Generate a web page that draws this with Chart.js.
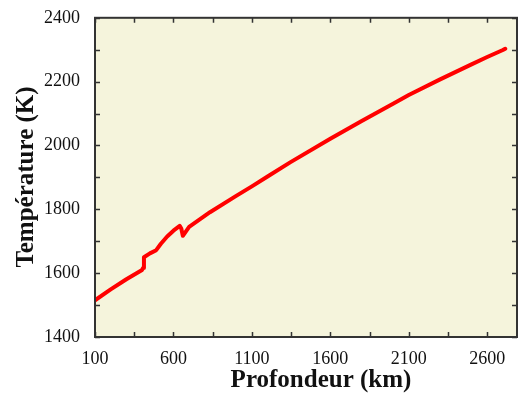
<!DOCTYPE html>
<html>
<head>
<meta charset="utf-8">
<script src="https://cdn.jsdelivr.net/npm/chart.js@4"></script>
<style>
  body { margin: 0; background: #fff; }
  canvas { display: block; }
</style>
</head>
<body>
<canvas id="chart" width="519" height="397"></canvas>
<script>
// depth (km) and temperature (K)
const depth = [100, 200, 300, 400, 406, 412, 450, 490, 520, 560, 600, 640, 650, 660, 700, 833, 1000, 1100, 1200, 1344, 1600, 1800, 2000, 2100, 2300, 2500, 2600, 2700, 2715];
const temperature = [1515, 1549, 1581, 1610, 1616, 1650, 1662, 1672, 1692, 1715, 1733, 1748, 1740, 1717, 1745, 1791, 1842, 1872, 1903, 1947, 2021, 2077, 2131, 2158, 2207, 2254, 2277, 2299, 2303];

const xTicks = [100, 350, 600, 850, 1100, 1350, 1600, 1850, 2100, 2350, 2600];
const xLabels = [100, 600, 1100, 1600, 2100, 2600];
const yTicks = [1400, 1500, 1600, 1700, 1800, 1900, 2000, 2100, 2200, 2300, 2400];
const yLabels = [1400, 1600, 1800, 2000, 2200, 2400];

const points = depth.map((d, i) => ({ x: d, y: temperature[i] }));
const serif = '"Liberation Serif", "DejaVu Serif", serif';

const frame = {
  id: 'frame',
  beforeDatasetsDraw(chart) {
    const { ctx, chartArea: a } = chart;
    ctx.save();
    ctx.fillStyle = '#f5f4dc';
    ctx.fillRect(a.left, a.top, a.right - a.left, a.bottom - a.top);
    ctx.restore();
  },
  afterDraw(chart) {
    const { ctx, chartArea: a, scales } = chart;
    ctx.save();
    ctx.strokeStyle = '#333';
    ctx.lineWidth = 1.5;
    ctx.beginPath();
    xTicks.forEach(v => {
      const px = Math.round(scales.x.getPixelForValue(v)) + 0.5;
      ctx.moveTo(px, a.bottom); ctx.lineTo(px, a.bottom - 5);
      ctx.moveTo(px, a.top); ctx.lineTo(px, a.top + 5);
    });
    yTicks.forEach(v => {
      const py = Math.round(scales.y.getPixelForValue(v)) + 0.5;
      ctx.moveTo(a.left, py); ctx.lineTo(a.left + 5, py);
      ctx.moveTo(a.right, py); ctx.lineTo(a.right - 5, py);
    });
    ctx.stroke();
    ctx.lineWidth = 2;
    ctx.strokeRect(a.left, a.top, a.right - a.left, a.bottom - a.top);

    // axis titles
    ctx.fillStyle = '#111';
    ctx.font = 'bold 25px ' + serif;
    ctx.textAlign = 'center';
    ctx.textBaseline = 'middle';
    ctx.fillText('Profondeur (km)', 321, 381);
    ctx.translate(27, 177);
    ctx.rotate(-Math.PI / 2);
    ctx.fillText('Température (K)', 0, 0);
    ctx.restore();
  }
};

new Chart(document.getElementById('chart'), {
  type: 'line',
  data: {
    datasets: [{
      data: points,
      borderColor: '#ff0000',
      borderWidth: 4,
      borderJoinStyle: 'round',
      borderCapStyle: 'round',
      tension: 0,
      pointRadius: 0,
      fill: false
    }]
  },
  options: {
    responsive: false,
    animation: false,
    layout: { padding: { top: 16, right: 2, left: 0, bottom: 0 } },
    plugins: { legend: { display: false }, tooltip: { enabled: false } },
    scales: {
      x: {
        type: 'linear',
        min: 100,
        max: 2790,
        afterBuildTicks(s) { s.ticks = xLabels.map(v => ({ value: v })); },
        afterFit(s) { s.height = 60; },
        grid: { display: false },
        border: { display: false },
        ticks: {
          color: '#111',
          padding: 3,
          maxRotation: 0,
          autoSkip: false,
          callback: v => String(v),
          font: { family: serif, size: 18 }
        }
      },
      y: {
        min: 1400,
        max: 2400,
        afterBuildTicks(s) { s.ticks = yLabels.map(v => ({ value: v })); },
        afterFit(s) { s.width = 95; },
        grid: { display: false },
        border: { display: false },
        ticks: {
          color: '#111',
          padding: 7,
          autoSkip: false,
          callback: v => String(v),
          font: { family: serif, size: 18 }
        }
      }
    }
  },
  plugins: [frame]
});
</script>
</body>
</html>
